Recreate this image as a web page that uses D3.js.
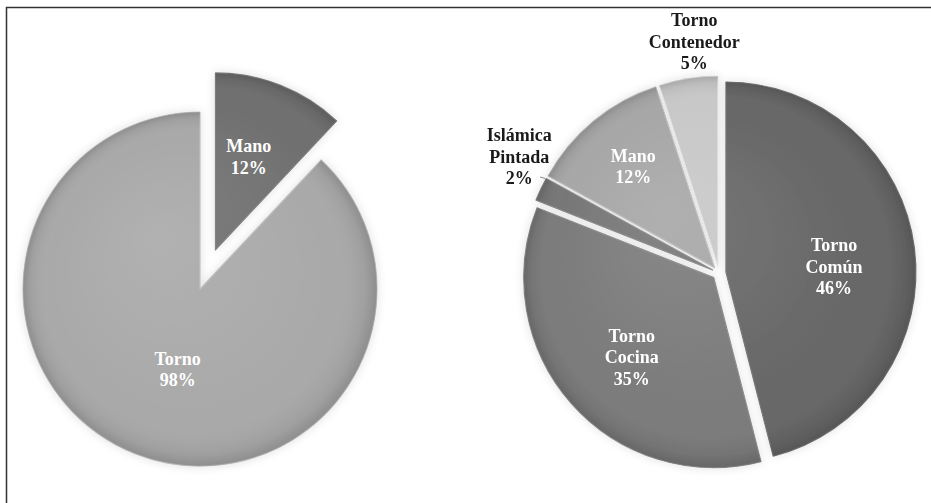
<!DOCTYPE html>
<html>
<head>
<meta charset="utf-8">
<script src="https://cdn.jsdelivr.net/npm/d3@7"></script>
<style>
  html, body { margin: 0; padding: 0; background: #ffffff; }
  svg { display: block; }
  text { font-family: "Liberation Serif", "Times New Roman", serif; font-weight: bold; }
</style>
</head>
<body>
<svg id="chart" width="931" height="503"></svg>
<script>
// ---- data ----
const leftCategories = ["Mano", "Torno"];
const leftValues = [12, 88];
const leftLabels = ["12%", "98%"];

const rightCategories = ["Torno Común", "Torno Cocina", "Islámica Pintada", "Mano", "Torno Contenedor"];
const rightValues = [46, 35, 2, 12, 5];
const rightLabels = ["46%", "35%", "2%", "12%", "5%"];

// ---- styles / layout (not data) ----
const leftColors = ["#6f6f6f", "#a9a9a9"];
const rightColors = ["#676767", "#7b7b7b", "#777777", "#a7a7a7", "#c8c8c8"];

const svg = d3.select("#chart");
const W = 931, H = 503;

// frame
svg.append("rect")
  .attr("x", 6.5).attr("y", 7.5)
  .attr("width", 960).attr("height", 540)
  .attr("fill", "none").attr("stroke", "#333").attr("stroke-width", 1.5);

const defs = svg.append("defs");
const shadow = defs.append("filter").attr("id", "shadow")
  .attr("x", "-20%").attr("y", "-20%").attr("width", "140%").attr("height", "140%");
shadow.append("feDropShadow").attr("dx", 0).attr("dy", 0)
  .attr("stdDeviation", 5).attr("flood-color", "#000").attr("flood-opacity", 0.12);

function makeShade(id, R) {
  const g = defs.append("radialGradient").attr("id", id)
    .attr("gradientUnits", "userSpaceOnUse").attr("cx", 0).attr("cy", 0).attr("r", R)
    .attr("fx", -R * 0.25).attr("fy", -R * 0.3);
  g.append("stop").attr("offset", "0%").attr("stop-color", "#fff").attr("stop-opacity", 0.10);
  g.append("stop").attr("offset", "80%").attr("stop-color", "#fff").attr("stop-opacity", 0.0);
  g.append("stop").attr("offset", "95%").attr("stop-color", "#000").attr("stop-opacity", 0.06);
  g.append("stop").attr("offset", "100%").attr("stop-color", "#000").attr("stop-opacity", 0.16);
}

function drawPie(opts) {
  const { cx, cy, R, cats, vals, labs, colors, explode, labelPos, darkLabels, id } = opts;
  makeShade("shade-" + id, R);
  const pie = d3.pie().sort(null).value(d => d.v).startAngle(0).endAngle(2 * Math.PI);
  const data = pie(cats.map((c, i) => ({ c, v: vals[i], lab: labs[i], col: colors[i] })));
  const arc = d3.arc().innerRadius(0).outerRadius(R);
  const root = svg.append("g").attr("transform", `translate(${cx},${cy})`);
  const sl = root.append("g").attr("filter", "url(#shadow)");

  data.forEach((d, i) => {
    const mid = (d.startAngle + d.endAngle) / 2;
    const e = explode(d, i);
    const ox = Math.sin(mid) * e, oy = -Math.cos(mid) * e;
    d.ox = ox; d.oy = oy; d.mid = mid;
    const g = sl.append("g").attr("transform", `translate(${ox},${oy})`);
    g.append("path").attr("d", arc(d)).attr("fill", d.data.col)
      .attr("stroke", d3.color(d.data.col).brighter(0.35)).attr("stroke-width", 1.2)
      .attr("stroke-linejoin", "round");
    g.append("path").attr("d", arc(d)).attr("fill", `url(#shade-${id})`);
  });

  data.forEach((d, i) => {
    const lp = labelPos(d, i);
    const a = d.mid + lp.dA * Math.PI / 180;
    const lx = d.ox + Math.sin(a) * R * lp.ratio;
    const ly = d.oy - Math.cos(a) * R * lp.ratio;
    const lines = d.data.c.split(" ").concat([d.data.lab]);
    const lh = 21.5;
    const t = root.append("text")
      .attr("text-anchor", "middle")
      .attr("font-size", 18)
      .attr("fill", darkLabels(d, i) ? "#1a1a1a" : "#ffffff");
    lines.forEach((ln, k) => {
      t.append("tspan").attr("x", lx)
        .attr("y", ly + (k - (lines.length - 1) / 2) * lh)
        .attr("dy", "0.35em").text(ln);
    });
    if (lp.leader) {
      const ex = d.ox + Math.sin(d.mid + 0.06) * (R + 1);
      const ey = d.oy - Math.cos(d.mid + 0.06) * (R + 1);
      root.append("line").attr("x1", ex).attr("y1", ey)
        .attr("x2", ex - 5).attr("y2", ey - 1.5)
        .attr("stroke", "#888").attr("stroke-width", 1);
    }
  });
}

// left pie
drawPie({
  id: "L", cx: 200, cy: 289, R: 177,
  cats: leftCategories, vals: leftValues, labs: leftLabels, colors: leftColors,
  explode: (d, i) => (i === 0 ? 42 : 0),
  labelPos: (d, i) => (i === 0 ? { ratio: 0.56, dA: -2 } : { ratio: 0.47, dA: -6 }),
  darkLabels: () => false
});

// right pie
const rightLabelPos = [
  { ratio: 0.57, dA: 4.2 },
  { ratio: 0.60, dA: -2.6 },
  { ratio: 1.18, dA: 5.2, leader: true },
  { ratio: 0.685, dA: 0.9 },
  { ratio: 1.19, dA: 3 }
];
drawPie({
  id: "R", cx: 719, cy: 273, R: 190,
  cats: rightCategories, vals: rightValues, labs: rightLabels, colors: rightColors,
  explode: () => 7,
  labelPos: (d, i) => rightLabelPos[i],
  darkLabels: (d, i) => rightLabelPos[i].ratio > 1
});
</script>
</body>
</html>
